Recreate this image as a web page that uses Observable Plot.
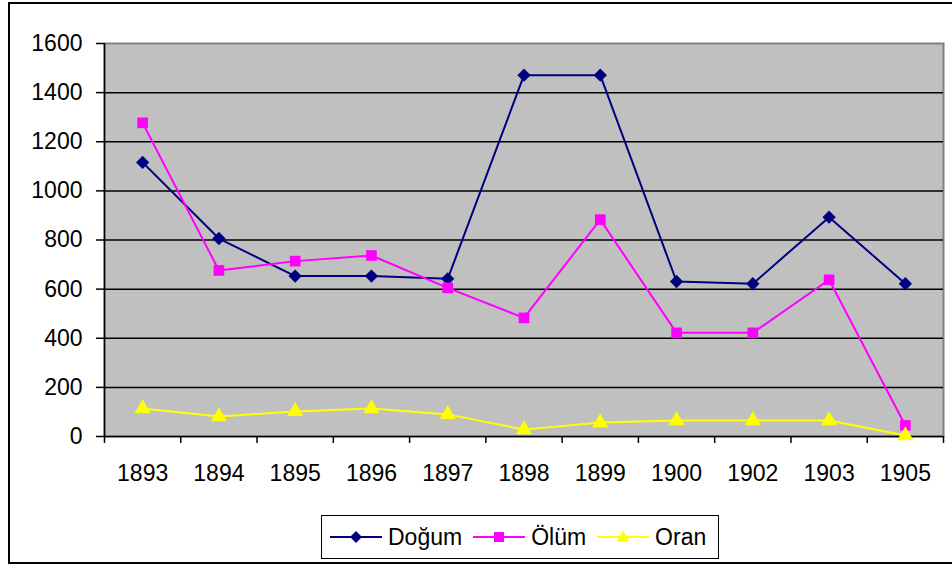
<!DOCTYPE html>
<html>
<head>
<meta charset="utf-8">
<script src="https://cdn.jsdelivr.net/npm/d3@7"></script>
<script src="https://cdn.jsdelivr.net/npm/@observablehq/plot@0.6"></script>
<style>
  html, body { margin: 0; padding: 0; background: #fff; overflow: hidden; }
  #wrap { position: relative; width: 952px; height: 570px; font-family: "Liberation Sans", Arial, sans-serif; }
  #outer { position: absolute; left: 8px; top: 2px; width: 950px; height: 562px; border: 2px solid #000; box-sizing: border-box; pointer-events: none; }
  #legend { position: absolute; left: 321px; top: 515px; width: 398px; height: 44px; box-sizing: border-box; border: 1.5px solid #000; background: #fff;
            display: flex; align-items: center; font-size: 23px; color: #000; padding-left: 8px; }
  .item { display: flex; align-items: center; margin-right: 11px; }
  .item svg { display: block; margin-right: 6px; }
</style>
</head>
<body>
<div id="wrap"><div id="chart"></div><div id="legend"></div><div id="outer"></div></div>
<script>
const years = ["1893","1894","1895","1896","1897","1898","1899","1900","1902","1903","1905"];
const dogum = [1116, 806, 653, 653, 642, 1471, 1471, 631, 622, 893, 622];
const olum  = [1277, 676, 714, 737, 605, 483, 883, 422, 422, 638, 45];
const oran  = [114, 81, 102, 114, 90, 28, 57, 65, 65, 65, 4];
const yTicks = [0, 200, 400, 600, 800, 1000, 1200, 1400, 1600];

const seriesNames = ["Doğum", "Ölüm", "Oran"];
const seriesColors = ["#000080", "#ff00ff", "#ffff00"];
const seriesSymbols = ["diamond2", "square", "triangle"];
const seriesR = [6, 6, 6];
const seriesValues = [dogum, olum, oran];

const rows = s => years.map((y, i) => ({idx: i + 0.5, year: y, value: seriesValues[s][i]}));
const bounds = d3.range(years.length + 1);

const marks = [
  Plot.frame({fill: "#c0c0c0", stroke: "#808080", strokeWidth: 2}),
  Plot.ruleY(yTicks.filter(d => d > 0 && d < 1600), {stroke: "#000", strokeWidth: 1.5}),
  Plot.ruleX([0], {stroke: "#000", strokeWidth: 1.5}),
  Plot.ruleY([0], {stroke: "#000", strokeWidth: 1.5}),
  Plot.axisY({ticks: yTicks, label: null, tickSize: 8, tickPadding: 14, fontSize: 23, tickFormat: d => String(d), stroke: "#000", strokeWidth: 1.5}),
  Plot.axisX({ticks: bounds, label: null, tickSize: 7, tickFormat: () => "", stroke: "#000", strokeWidth: 1.5}),
  Plot.text(years.map((y, i) => ({idx: i + 0.5, year: y})), {x: "idx", y: () => 0, text: "year", dy: 37, fontSize: 23, fill: "#000", lineAnchor: "middle"})
];
for (let s = 0; s < 3; s++) {
  marks.push(Plot.line(rows(s), {x: "idx", y: "value", stroke: seriesColors[s], strokeWidth: 2}));
  marks.push(Plot.dot(rows(s), {x: "idx", y: "value", symbol: () => seriesSymbols[s], r: seriesR[s], fill: seriesColors[s], stroke: "none"}));
}

const chart = Plot.plot({
  width: 952,
  height: 500,
  marginTop: 43,
  marginLeft: 104,
  marginRight: 9,
  marginBottom: 64,
  style: {fontFamily: "'Liberation Sans', Arial, sans-serif", fontSize: "23px", color: "#000", background: "transparent"},
  x: {type: "linear", domain: [0, years.length], axis: null, label: null},
  y: {domain: [0, 1600], axis: null, label: null},
  symbol: {type: "identity"},
  marks
});
document.getElementById("chart").appendChild(chart);

const legend = document.getElementById("legend");
const shapes = [
  '<polygon points="26,4 32,10 26,16 20,10" fill="#000080"/>',
  '<rect x="21" y="5" width="10" height="10" fill="#ff00ff"/>',
  '<polygon points="26,3.5 32.5,14.5 19.5,14.5" fill="#ffff00"/>'
];
seriesNames.forEach((name, s) => {
  const it = document.createElement("div");
  it.className = "item";
  it.innerHTML = `<svg width="52" height="20"><line x1="0" x2="52" y1="10" y2="10" stroke="${seriesColors[s]}" stroke-width="2"/>${shapes[s]}</svg><span>${name}</span>`;
  legend.appendChild(it);
});
</script>
</body>
</html>
